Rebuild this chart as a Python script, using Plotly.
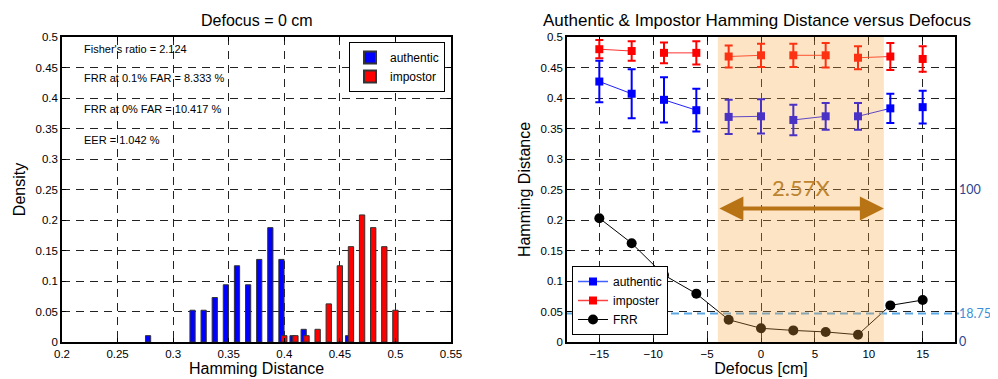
import plotly.graph_objects as go

# ---------------- data ----------------
# left: histogram densities
hd_bins_auth = [0.28, 0.32, 0.33, 0.34, 0.35, 0.36, 0.37, 0.38, 0.39, 0.40, 0.41, 0.42, 0.46]
dens_auth = [0.0104, 0.0521, 0.0521, 0.0729, 0.0938, 0.125, 0.0938, 0.1354, 0.1875, 0.1354, 0.0104, 0.0208, 0.0104]
hd_bins_imp = [0.40, 0.41, 0.42, 0.43, 0.44, 0.45, 0.46, 0.47, 0.48, 0.49, 0.50]
dens_imp = [0.0104, 0.0104, 0.0104, 0.0208, 0.0625, 0.125, 0.1563, 0.2083, 0.1875, 0.1563, 0.0521]
stats_text = ["Fisher's ratio = 2.124", "FRR at 0.1% FAR = 8.333 %",
              "FRR at 0% FAR = 10.417 %", "EER = 1.042 %"]
stats_y = [0.481, 0.433, 0.382, 0.331]

# right: hamming distance vs defocus
defocus = [-15, -12, -9, -6, -3, 0, 3, 6, 9, 12, 15]
auth_mean = [0.427, 0.407, 0.397, 0.380, 0.369, 0.370, 0.364, 0.370, 0.370, 0.383, 0.385]
auth_err = [0.034, 0.040, 0.037, 0.035, 0.028, 0.028, 0.025, 0.022, 0.022, 0.024, 0.027]
imp_mean = [0.480, 0.477, 0.474, 0.474, 0.468, 0.470, 0.470, 0.470, 0.466, 0.468, 0.464]
imp_err = [0.015, 0.016, 0.017, 0.019, 0.018, 0.019, 0.019, 0.020, 0.019, 0.022, 0.021]
frr_pct = [81.2, 64.8, 43.9, 31.7, 14.6, 9.0, 7.6, 6.6, 4.8, 24.0, 27.5]
frr_threshold = 18.75
focus_range = [-4.0, 11.4]
focus_gain_label = "2.57X"

# line segments joining pairs of points (gaps as in the reference)
def paired(xs, ys):
    ox, oy = [], []
    for i, (x, y) in enumerate(zip(xs, ys)):
        ox.append(x); oy.append(y)
        if i % 2 == 1:
            ox.append(None); oy.append(None)
    return ox, oy

FONT = "Liberation Sans, Arial, sans-serif"
GRID = dict(showgrid=True, gridcolor="#222", griddash="8px,6px", gridwidth=1,
            showline=True, linecolor="black", linewidth=1.5, mirror="ticks",
            ticks="inside", ticklen=4, tickcolor="black", zeroline=False, automargin=False,
            tickfont=dict(family=FONT, size=11.5, color="black"))

# the page body has an 8px margin: figure is placed at (8, 8) in the window
OFF = 8
W, H = 998 - OFF, 379 - OFF
def PX(x):
    return (x - OFF) / W
def PY(y):
    return (H - (y - OFF)) / H

L1, R1 = PX(62), PX(451)
L2, R2 = PX(567), PX(955)
YB, YT = PY(342), PY(37)

fig = go.Figure()

# left histogram
fig.add_trace(go.Bar(x=hd_bins_auth, y=dens_auth, name="authentic", offset=-0.0049, width=0.0047,
                     marker=dict(color="#0000ff", line=dict(color="#333", width=1)),
                     xaxis="x", yaxis="y", legend="legend"))
fig.add_trace(go.Bar(x=hd_bins_imp, y=dens_imp, name="impostor", offset=-0.0024, width=0.0048,
                     marker=dict(color="#ff0000", line=dict(color="#333", width=1)),
                     xaxis="x", yaxis="y", legend="legend"))

# right plot
ax_, ay_ = paired(defocus, auth_mean)
ix_, iy_ = paired(defocus, imp_mean)
fig.add_trace(go.Scatter(x=ax_, y=ay_, mode="lines", line=dict(color="#2020ff", width=1),
                         showlegend=False, xaxis="x2", yaxis="y2", hoverinfo="skip"))
fig.add_trace(go.Scatter(x=ix_, y=iy_, mode="lines", line=dict(color="#ff3030", width=1),
                         showlegend=False, xaxis="x2", yaxis="y2", hoverinfo="skip"))
fig.add_trace(go.Scatter(x=defocus, y=auth_mean, mode="markers", name="authentic",
                         marker=dict(symbol="square", size=8, color="#0000ff"),
                         error_y=dict(type="data", array=auth_err, color="#0000ff", thickness=2, width=4),
                         xaxis="x2", yaxis="y2", legend="legend2", showlegend=False))
fig.add_trace(go.Scatter(x=defocus, y=imp_mean, mode="markers", name="imposter",
                         marker=dict(symbol="square", size=8, color="#ff0000"),
                         error_y=dict(type="data", array=imp_err, color="#ff0000", thickness=2, width=4),
                         xaxis="x2", yaxis="y2", legend="legend2", showlegend=False))
# legend-only entries with line+marker
fig.add_trace(go.Scatter(x=[None], y=[None], mode="lines+markers", name="authentic",
                         line=dict(color="#4060ff", width=1.5),
                         marker=dict(symbol="square", size=8, color="#0000ff"),
                         xaxis="x2", yaxis="y2", legend="legend2"))
fig.add_trace(go.Scatter(x=[None], y=[None], mode="lines+markers", name="imposter",
                         line=dict(color="#ff4040", width=1.5),
                         marker=dict(symbol="square", size=8, color="#ff0000"),
                         xaxis="x2", yaxis="y2", legend="legend2"))
fig.add_trace(go.Scatter(x=defocus, y=frr_pct, mode="lines+markers", name="FRR",
                         line=dict(color="black", width=1),
                         marker=dict(symbol="circle", size=10, color="black"),
                         xaxis="x2", yaxis="y3", legend="legend2"))

shapes = [
    dict(type="line", xref="x2 domain", yref="y3", x0=0, x1=1.01, y0=frr_threshold, y1=frr_threshold,
         line=dict(color="#5aa8e6", width=2, dash="8px,5px"), layer="above"),
    dict(type="rect", xref="x2", yref="y2 domain", x0=focus_range[0], x1=focus_range[1], y0=0, y1=1,
         fillcolor="rgba(245,165,60,0.30)", line=dict(width=0), layer="above"),
]

annotations = [
    dict(text="Defocus = 0 cm", xref="paper", yref="paper", x=(L1 + R1) / 2, y=PY(20),
         showarrow=False, font=dict(family=FONT, size=16, color="black"),
         xanchor="center", yanchor="middle"),
    dict(text="Authentic & Impostor Hamming Distance versus Defocus", xref="paper", yref="paper",
         x=PX(757), y=PY(20), showarrow=False, xanchor="center", yanchor="middle",
         font=dict(family=FONT, size=17, color="black")),
    dict(text="", xref="x2", yref="y2", x=focus_range[1], y=0.219,
         ax=focus_range[0], ay=0.219, axref="x2", ayref="y2", showarrow=True,
         arrowside="end+start", arrowhead=2, arrowsize=1.2, arrowwidth=4, arrowcolor="#b87314",
         standoff=0, startstandoff=0),
    dict(text=focus_gain_label, xref="x2", yref="y2", x=(focus_range[0] + focus_range[1]) / 2,
         y=0.2525, showarrow=False, xanchor="center", yanchor="middle",
         font=dict(family="Lato, sans-serif", size=22, color="#bd8530")),
]
for t, yy in zip(stats_text, stats_y):
    annotations.append(dict(text=t, xref="x", yref="y", x=0.218, y=yy, xanchor="left",
                            yanchor="middle", showarrow=False,
                            font=dict(family=FONT, size=11, color="black")))

fig.update_layout(
    width=W, height=H, margin=dict(l=0, r=0, t=0, b=0, autoexpand=False),
    paper_bgcolor="white", plot_bgcolor="white", barmode="overlay",
    xaxis=dict(domain=[L1, R1], range=[0.2, 0.55], tickvals=[0.2, 0.25, 0.3, 0.35, 0.4, 0.45, 0.5, 0.55],
               ticktext=["0.2", "0.25", "0.3", "0.35", "0.4", "0.45", "0.5", "0.55"], anchor="y",
               title=dict(text="Hamming Distance", font=dict(family=FONT, size=16, color="black"), standoff=4),
               **GRID),
    yaxis=dict(domain=[YB, YT], range=[0, 0.5], dtick=0.05, tickformat="~g", anchor="x",
               title=dict(text="Density", font=dict(family=FONT, size=16, color="black"), standoff=6),
               **GRID),
    xaxis2=dict(domain=[L2, R2], range=[-18, 18], tickvals=[-15, -10, -5, 0, 5, 10, 15], anchor="y2",
                title=dict(text="Defocus [cm]", font=dict(family=FONT, size=16, color="black"), standoff=4),
                **GRID),
    yaxis2=dict(domain=[YB, YT], range=[0, 0.5], dtick=0.05, tickformat="~g", anchor="x2",
                title=dict(text="Hamming Distance", font=dict(family=FONT, size=16, color="black"), standoff=6),
                **GRID),
    yaxis3=dict(overlaying="y2", side="right", anchor="x2", range=[0, 200],
                tickvals=[0, frr_threshold, 100],
                ticktext=["<span style='color:#2b4590'>0</span>",
                          "<span style='color:#3a8fd8'>18.75</span>",
                          "<span style='color:#2b4590'>100</span>"],
                showgrid=False, showline=False, zeroline=False, ticks="", ticklabelstandoff=3,
                automargin=False,
                tickfont=dict(family="Lato, sans-serif", size=12.5, color="#2b4590")),
    legend=dict(x=PX(445), y=PY(42), xanchor="right", yanchor="top",
                bgcolor="white", bordercolor="black", borderwidth=1,
                font=dict(family=FONT, size=12, color="black"), tracegroupgap=0,
                itemsizing="constant"),
    legend2=dict(x=PX(572), y=PY(335), xanchor="left", yanchor="bottom",
                 bgcolor="white", bordercolor="black", borderwidth=1,
                 font=dict(family=FONT, size=12, color="black"), tracegroupgap=0),
    shapes=shapes, annotations=annotations, showlegend=True,
)

fig.write_html("out.html")
